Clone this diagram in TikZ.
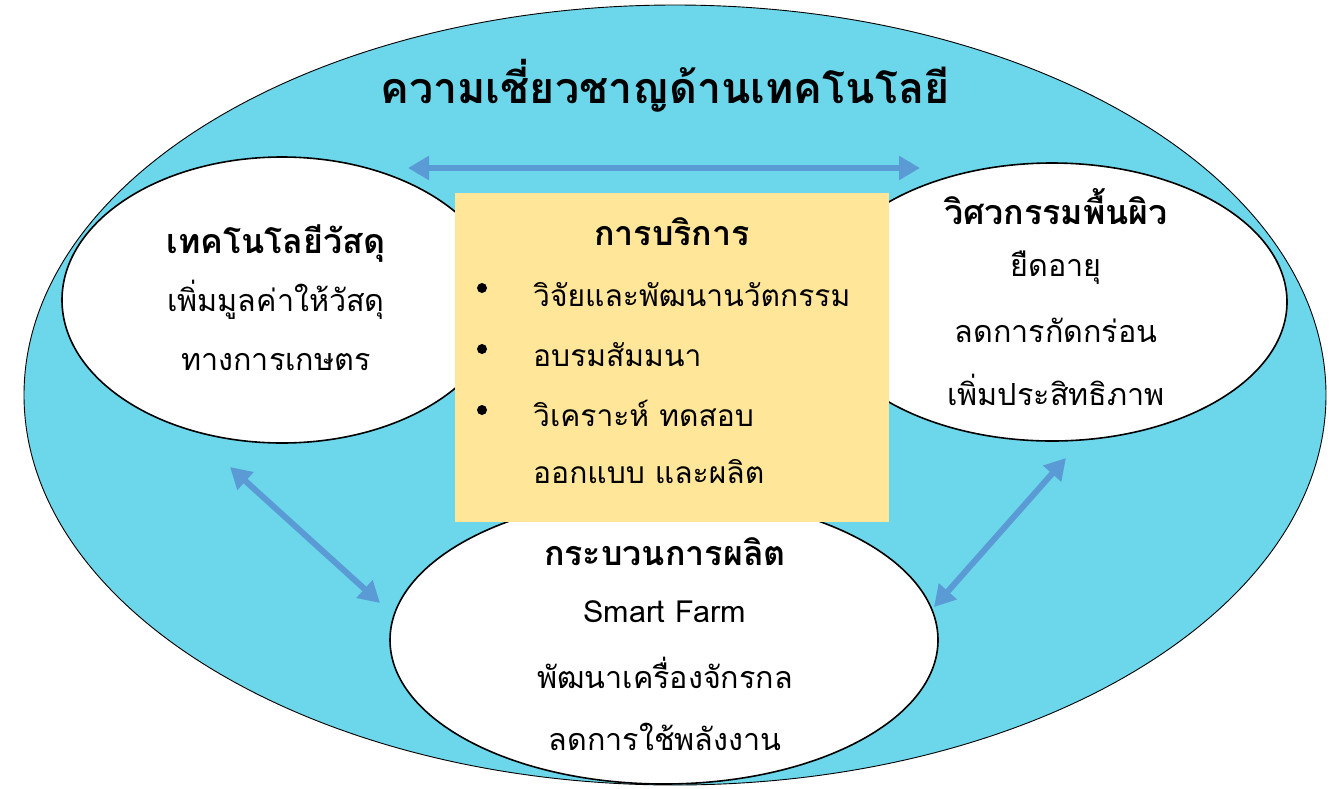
\documentclass[tikz,border=0pt]{standalone}
\usepackage{fontspec}
\setmainfont[Script=Thai]{Loma}
\usetikzlibrary{shapes.geometric,arrows.meta}
\definecolor{cyanbg}{HTML}{6CD7EB}
\definecolor{boxyellow}{HTML}{FFE699}
\definecolor{arrowblue}{HTML}{5B9BD5}
\tikzset{
  oval/.style={ellipse, draw=black, fill=white, line width=1.6pt, inner sep=0pt},
  heading/.style={font=\bfseries\fontsize{34}{40}\selectfont, inner sep=0pt, anchor=center},
  body/.style={font=\fontsize{30.5}{36}\selectfont, inner sep=0pt, anchor=center},
  bodyleft/.style={font=\fontsize{30}{36}\selectfont, inner sep=0pt, anchor=west},
  bulletdot/.style={circle, fill=black, inner sep=0pt, minimum size=10pt},
  link/.style={draw=arrowblue, line width=6pt,
    arrows={Triangle[length=21pt,width=23pt]-Triangle[length=21pt,width=23pt]}}
}
\begin{document}
\begin{tikzpicture}[x=1pt,y=-1pt]
\useasboundingbox (0,0) rectangle (1336,788);
% outer ellipse
\node[ellipse, draw=black, fill=cyanbg, line width=0.9pt, inner sep=0pt,
      minimum width=1302pt, minimum height=780pt] (outer) at (675,395) {};
% inner ellipses
\node[oval, minimum width=440pt, minimum height=286pt] (mat) at (282,300) {};
\node[oval, minimum width=470pt, minimum height=278pt] (surf) at (1052,302) {};
\node[oval, minimum width=548pt, minimum height=288pt] (proc) at (664,640) {};
% service box
\node[fill=boxyellow, minimum width=434pt, minimum height=329pt, inner sep=0pt] (svc) at (672,357.5) {};
% title
\node[font=\bfseries\fontsize{43}{50}\selectfont, inner sep=0pt] (title) at (665,86) {ความเชี่ยวชาญด้านเทคโนโลยี};
% arrows
\coordinate (a1) at (408,168);
\coordinate (a2) at (920,168);
\coordinate (b1) at (230,467);
\coordinate (b2) at (380,603);
\coordinate (c1) at (1066,458);
\coordinate (c2) at (934,607);
\draw[link] (a1) -- (a2);
\draw[link] (b1) -- (b2);
\draw[link] (c1) -- (c2);
% left ellipse text
\node[heading] (matH) at (276,244) {เทคโนโลยีวัสดุ};
\node[body] (mat1) at (276,300) {เพิ่มมูลค่าให้วัสดุ};
\node[body] (mat2) at (276,362) {ทางการเกษตร};
% right ellipse text
\node[heading] (surfH) at (1056,207) {วิศวกรรมพื้นผิว};
\node[body] (surf1) at (1056,268) {ยืดอายุ};
\node[body] (surf2) at (1056,330) {ลดการกัดกร่อน};
\node[body] (surf3) at (1056,390) {เพิ่มประสิทธิภาพ};
% box text
\node[heading] (svcH) at (672,232) {การบริการ};
\node[bulletdot] (d1) at (482,288) {};
\node[bulletdot] (d2) at (482,349) {};
\node[bulletdot] (d3) at (482,410) {};
\node[bodyleft] (s1) at (533,295) {วิจัยและพัฒนานวัตกรรม};
\node[bodyleft] (s2) at (533,355) {อบรมสัมมนา};
\node[bodyleft] (s3) at (533,413) {วิเคราะห์ ทดสอบ};
\node[bodyleft] (s4) at (533,472) {ออกแบบ และผลิต};
% bottom ellipse text
\node[heading] (procH) at (665,552) {กระบวนการผลิต};
\node[body] (proc1) at (665,612) {Smart Farm};
\node[body] (proc2) at (665,673) {พัฒนาเครื่องจักรกล};
\node[body] (proc3) at (665,737) {ลดการใช้พลังงาน};
\end{tikzpicture}
\end{document}
